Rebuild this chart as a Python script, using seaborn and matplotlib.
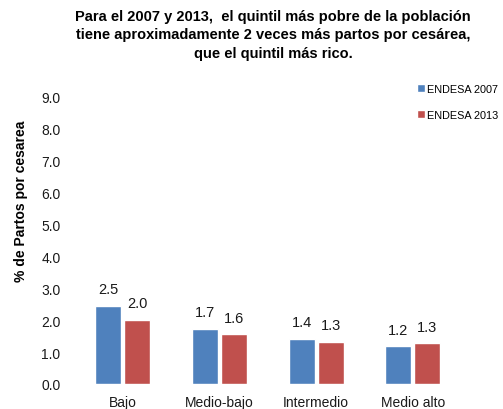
import pandas as pd
import seaborn as sns
import matplotlib.pyplot as plt

# data
categorias = ['Bajo', 'Medio-bajo', 'Intermedio', 'Medio alto']
endesa_2007 = [2.46, 1.72, 1.42, 1.18]
endesa_2013 = [2.02, 1.56, 1.32, 1.27]
series = ['ENDESA 2007', 'ENDESA 2013']
colores = ['#4F81BD', '#C0504D']

df = pd.DataFrame({
    'cat': categorias * 2,
    'valor': endesa_2007 + endesa_2013,
    'serie': [series[0]] * 4 + [series[1]] * 4,
})

sns.set_theme(style='white')
plt.rcParams['font.family'] = ['Liberation Sans', 'DejaVu Sans']
plt.rcParams['text.color'] = 'black'

fig = plt.figure(figsize=(5.03, 4.10), dpi=100)
ax = fig.add_axes([0.148, 0.061, 0.769, 0.70])

sns.barplot(data=df, x='cat', y='valor', hue='serie', hue_order=series,
            palette=colores, width=0.6, gap=0.1, ax=ax, saturation=1)

for cont in ax.containers:
    ax.bar_label(cont, fmt='%.1f', padding=7, fontsize=10.5, color='#1a1a1a')

ax.set_ylim(0, 9)
ax.set_yticks([i for i in range(10)])
ax.set_yticklabels([f'{i:.1f}' for i in range(10)])
ax.tick_params(axis='y', length=0, pad=10, labelsize=10, labelcolor='#1a1a1a')
ax.tick_params(axis='x', length=0, pad=8, labelsize=10, labelcolor='#1a1a1a')
ax.set_xlabel('')
ax.set_ylabel('% de Partos por cesarea', fontsize=10, fontweight='bold', color='black')
ax.yaxis.set_label_coords(-0.12, 0.64)
for s in ax.spines.values():
    s.set_visible(False)

ax.legend(loc='upper right', bbox_to_anchor=(1.12, 1.08), frameon=False,
          fontsize=7.8, handlelength=0.7, handleheight=0.7, handletextpad=0.2,
          labelspacing=1.5)

fig.text(0.543, 0.975,
         'Para el 2007 y 2013,  el quintil más pobre de la población\n'
         'tiene aproximadamente 2 veces más partos por cesárea,\n'
         'que el quintil más rico.',
         ha='center', va='top', fontsize=10.5, fontweight='bold',
         linespacing=1.38, color='black')

fig.savefig('out.png', dpi=100)
